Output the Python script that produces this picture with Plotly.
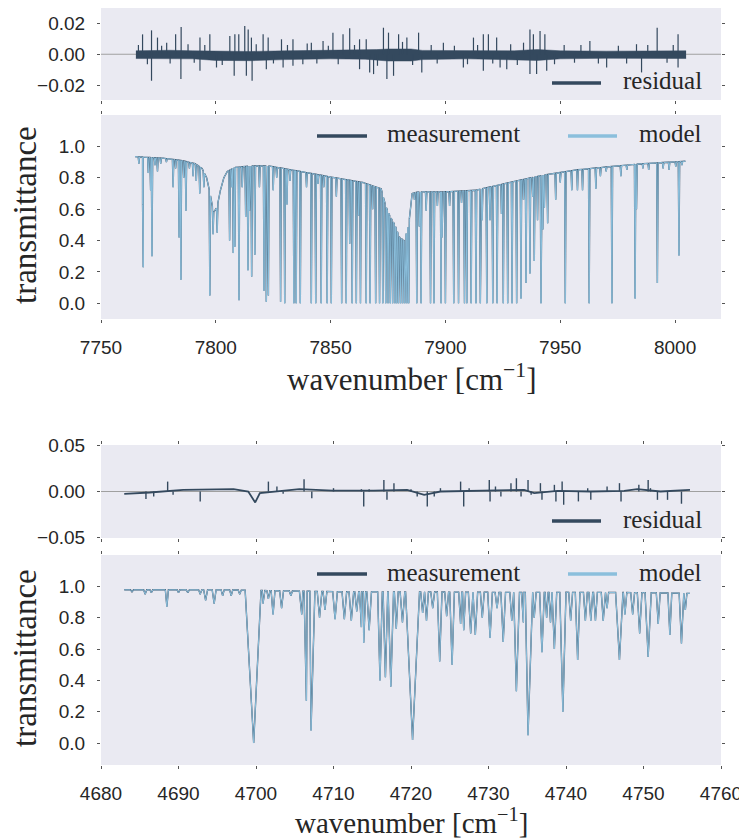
import numpy as np
import plotly.graph_objects as go

# ---------------- data: upper figure (7750-8020 cm^-1) ----------------
top_cont_w = [7764.8, 7770, 7777, 7785, 7791, 7794, 7796, 7797.5, 7799, 7800.5, 7802, 7803.5,
              7805, 7808, 7815, 7823, 7835, 7850, 7864, 7872, 7874, 7876, 7878, 7880, 7882,
              7884, 7885.5, 7888, 7899, 7913, 7928, 7942, 7957, 7971, 7986, 8004.5]
top_cont_t = [0.935, 0.93, 0.925, 0.91, 0.89, 0.86, 0.80, 0.70, 0.58, 0.61, 0.72, 0.80,
              0.84, 0.865, 0.875, 0.875, 0.845, 0.805, 0.77, 0.73, 0.62, 0.55, 0.50, 0.42, 0.40,
              0.50, 0.70, 0.71, 0.71, 0.72, 0.77, 0.815, 0.85, 0.87, 0.89, 0.905]

top_line_w = [7766.5, 7768.1, 7768.4, 7770.6, 7771.6, 7772.2, 7773.5, 7774.6, 7776.0, 7778.5,
              7781.4, 7782.5, 7784.0, 7784.8, 7786.0, 7787.0, 7788.5, 7790.1, 7791.5, 7793.0,
              7794.8, 7797.4, 7798.8, 7800.6, 7806.0, 7807.0, 7807.6, 7808.3, 7810.1, 7811.5,
              7813.0, 7814.0, 7814.7, 7815.6, 7817.0, 7819.0, 7821.0, 7822.0, 7822.9, 7825.0,
              7826.5, 7828.2, 7830.0, 7831.0, 7832.3, 7834.0, 7835.0, 7836.8, 7839.5, 7841.6,
              7843.5, 7844.5, 7845.9, 7847.0, 7848.5, 7850.3, 7852.5, 7854.8, 7856.8, 7858.3,
              7859.4, 7861.2, 7862.2, 7863.0, 7865.5, 7867.2, 7868.3, 7869.6, 7871.3, 7872.7,
              7874.0, 7875.0, 7876.0, 7877.0, 7878.0, 7878.8, 7879.6, 7880.5, 7881.4, 7882.3,
              7883.2, 7884.0, 7886.5, 7887.5, 7888.6, 7889.4, 7891.6, 7893.5, 7895.0, 7896.5,
              7898.1, 7898.5, 7900.0, 7901.8, 7903.6, 7905.7, 7907.0, 7908.3, 7909.3, 7911.2,
              7913.3, 7915.2, 7916.0, 7918.0, 7919.4, 7920.6, 7922.5, 7924.4, 7925.2, 7927.1,
              7929.0, 7931.0, 7932.9, 7934.0, 7935.1, 7936.8, 7938.0, 7938.7, 7940.1, 7941.6,
              7942.4, 7943.1, 7944.5, 7948.0, 7950.0, 7952.2, 7955.0, 7957.5, 7959.7, 7962.6,
              7965.5, 7967.5, 7970.0, 7972.5, 7976.4, 7979.0, 7982.6, 7983.2, 7986.0, 7988.5,
              7992.3, 7994.8, 7997.4, 8000.3, 8001.7, 8003.0]
top_line_t = [0.89, 0.63, 0.23, 0.83, 0.72, 0.30, 0.88, 0.84, 0.89, 0.90,
              0.74, 0.86, 0.42, 0.15, 0.80, 0.59, 0.86, 0.81, 0.78, 0.70,
              0.74, 0.05, 0.44, 0.45, 0.40, 0.74, 0.32, 0.36, 0.02, 0.74,
              0.55, 0.21, 0.59, 0.17, 0.31, 0.74, 0.08, 0.01, 0.05, 0.72,
              0.80, 0.01, 0.00, 0.63, 0.78, 0.00, 0.00, 0.00, 0.74, 0.00,
              0.00, 0.76, 0.00, 0.74, 0.00, 0.00, 0.68, 0.00, 0.00, 0.38,
              0.00, 0.00, 0.56, 0.00, 0.00, 0.00, 0.60, 0.00, 0.00, 0.00,
              0.00, 0.00, 0.00, 0.00, 0.00, 0.00, 0.00, 0.00, 0.00, 0.00,
              0.00, 0.00, 0.66, 0.00, 0.49, 0.00, 0.59, 0.00, 0.00, 0.62,
              0.00, 0.42, 0.00, 0.62, 0.00, 0.00, 0.64, 0.00, 0.00, 0.00,
              0.00, 0.00, 0.53, 0.00, 0.53, 0.00, 0.00, 0.57, 0.00, 0.00,
              0.00, 0.00, 0.03, 0.66, 0.13, 0.19, 0.68, 0.27, 0.53, 0.00,
              0.47, 0.61, 0.51, 0.66, 0.77, 0.00, 0.72, 0.72, 0.72, 0.00,
              0.73, 0.81, 0.84, 0.00, 0.81, 0.85, 0.03, 0.60, 0.86, 0.85,
              0.13, 0.86, 0.85, 0.87, 0.305, 0.88]

# residual (upper): noise band envelope and individual spikes
top_res_env_w = [7765.2, 7780, 7790, 7800, 7815, 7830, 7850, 7865, 7870, 7875, 7885, 7890,
                 7910, 7930, 7936, 7940, 7946, 7950, 7970, 7990, 8004.8]
top_res_env_hi = [0.0022, 0.0026, 0.0022, 0.0020, 0.0018, 0.0022, 0.0026, 0.0026, 0.0030, 0.0034,
                  0.0034, 0.0025, 0.0022, 0.0022, 0.0028, 0.0030, 0.0026, 0.0022, 0.0020, 0.0022, 0.0022]
top_res_env_lo = [-0.0028, -0.0032, -0.0030, -0.0040, -0.0042, -0.0035, -0.0030, -0.0032, -0.0036,
                  -0.0044, -0.0044, -0.0035, -0.0030, -0.0034, -0.0038, -0.0040, -0.0034, -0.0030,
                  -0.0026, -0.0026, -0.0028]
top_res_spike_w = [7768.1, 7772.0, 7774.6, 7778.6, 7782.5, 7784.9, 7793.1, 7797.4, 7806.1, 7808.3,
                   7810.0, 7812.6, 7814.1, 7815.5, 7820.6, 7822.8, 7828.6, 7833.6, 7841.6, 7846.7,
                   7851.0, 7855.4, 7858.3, 7862.6, 7865.5, 7873.0, 7875.2, 7879.6, 7883.2, 7888.3,
                   7899.1, 7912.2, 7916.5, 7918.7, 7922.3, 7936.8, 7938.3, 7941.2, 7943.3, 7962.9,
                   7983.2, 7992.2, 8001.3,
                   7772.0, 7784.8, 7793.1, 7800.3, 7808.0, 7813.3, 7815.8, 7822.0, 7829.3, 7833.6,
                   7862.6, 7867.0, 7868.7, 7874.5, 7877.4, 7889.7, 7907.8, 7916.5, 7923.8, 7926.7,
                   7936.8, 7939.7, 7944.1, 7970.2, 7985.4, 8001.3,
                   7766.3, 7770.2, 7776.4, 7780.1, 7787.9, 7790.6, 7795.2, 7802.8, 7817.6, 7825.1,
                   7831.2, 7837.9, 7839.8, 7844.0, 7849.0, 7853.3, 7860.4, 7870.4, 7881.3, 7885.7,
                   7893.8, 7896.4, 7903.9, 7909.6, 7914.0, 7920.6, 7928.4, 7931.3, 7934.0, 7947.5,
                   7951.7, 7956.2, 7959.0, 7966.6, 7975.3, 7978.9, 7988.1, 7996.5, 7999.2]
top_res_spike_r = [0.0129, 0.0155, 0.0108, 0.0075, 0.0129, 0.0176, 0.0108, 0.0129, 0.0118, 0.0129,
                   0.0129, 0.0183, 0.0161, 0.0108, 0.0129, 0.0108, 0.0097, 0.0097, 0.0075, 0.0086,
                   0.0140, 0.0129, 0.0168, 0.0097, 0.0097, 0.0172, 0.0140, 0.0129, 0.0108, 0.0140,
                   0.0075, 0.0108, 0.0129, 0.0129, 0.0108, 0.0161, 0.0129, 0.0150, 0.0129, 0.0086,
                   0.0065, 0.0172, 0.0129,
                   -0.0172, -0.0161, -0.0108, -0.0086, -0.0140, -0.0140, -0.0172, -0.0097, -0.0086, -0.0075,
                   -0.0097, -0.0118, -0.0129, -0.0161, -0.0140, -0.0118, -0.0086, -0.0108, -0.0086, -0.0097,
                   -0.0129, -0.0129, -0.0108, -0.0086, -0.0118, -0.0086,
                   0.0060, -0.0065, 0.0055, -0.0060, 0.0065, -0.0055, 0.0060, -0.0070, 0.0065, -0.0060,
                   0.0060, -0.0065, 0.0070, -0.0060, 0.0055, -0.0065, 0.0060, -0.0075, 0.0080, -0.0070,
                   0.0060, -0.0060, 0.0055, -0.0065, 0.0060, -0.0060, 0.0065, -0.0070, 0.0075, -0.0065,
                   0.0060, -0.0055, 0.0060, -0.0060, 0.0055, -0.0060, 0.0060, -0.0055, 0.0060]

# ---------------- data: lower figure (4680-4760 cm^-1) ----------------
bot_cont_w = [4683.0, 4690, 4697, 4705, 4712, 4720, 4730, 4740, 4750, 4756]
bot_cont_t = [0.978, 0.978, 0.977, 0.970, 0.965, 0.965, 0.962, 0.962, 0.960, 0.955]

bot_line_w = [4684.0, 4685.7, 4686.5, 4688.5, 4690.0, 4691.2, 4692.8, 4693.5, 4694.6, 4695.7,
              4696.8, 4697.9, 4699.7, 4700.9, 4701.6, 4702.2, 4703.3, 4704.5, 4705.9, 4706.5,
              4707.1, 4708.2, 4708.9, 4710.2, 4711.4, 4712.3, 4713.0, 4713.6, 4713.9, 4714.6,
              4716.0, 4716.7, 4717.4, 4718.1, 4718.9, 4720.2, 4721.5, 4722.0, 4722.8, 4723.7,
              4724.6, 4725.3, 4726.4, 4726.8, 4727.7, 4728.3, 4729.2, 4730.2, 4731.1, 4731.9,
              4733.0, 4733.6, 4734.5, 4735.1, 4735.9, 4736.9, 4737.5, 4738.0, 4738.5, 4739.6,
              4740.6, 4741.5, 4742.5, 4743.2, 4743.8, 4744.8, 4745.3, 4746.9, 4747.6, 4748.6,
              4749.5, 4750.6, 4751.9, 4753.4, 4754.9, 4755.4]
bot_line_t = [0.965, 0.95, 0.96, 0.87, 0.96, 0.96, 0.95, 0.91, 0.89, 0.94,
              0.94, 0.95, 0.00, 0.89, 0.92, 0.82, 0.86, 0.94, 0.82, 0.27,
              0.08, 0.80, 0.85, 0.79, 0.79, 0.78, 0.84, 0.74, 0.64, 0.72,
              0.40, 0.42, 0.36, 0.73, 0.77, 0.02, 0.83, 0.78, 0.86, 0.52,
              0.81, 0.50, 0.76, 0.72, 0.70, 0.69, 0.80, 0.67, 0.86, 0.645,
              0.78, 0.33, 0.77, 0.05, 0.80, 0.58, 0.80, 0.77, 0.60, 0.20,
              0.78, 0.53, 0.78, 0.78, 0.78, 0.78, 0.86, 0.53, 0.82, 0.82,
              0.70, 0.55, 0.76, 0.69, 0.635, 0.85]
bot_line_hw = [0.2, 0.2, 0.2, 0.2, 0.2, 0.2, 0.2, 0.25, 0.25, 0.2,
               0.2, 0.2, 1.1, 0.25, 0.2, 0.25, 0.25, 0.2, 0.3, 0.45,
               0.5, 0.3, 0.25, 0.3, 0.3, 0.3, 0.25, 0.25, 0.25, 0.3,
               0.3, 0.3, 0.35, 0.25, 0.3, 0.9, 0.25, 0.25, 0.25, 0.3,
               0.25, 0.3, 0.25, 0.25, 0.3, 0.3, 0.25, 0.3, 0.25, 0.3,
               0.25, 0.4, 0.25, 0.6, 0.25, 0.3, 0.2, 0.2, 0.3, 0.4,
               0.25, 0.3, 0.25, 0.25, 0.25, 0.25, 0.2, 0.5, 0.25, 0.25,
               0.3, 0.4, 0.25, 0.25, 0.3, 0.2]

bot_res_base_w = [4683.0, 4686.3, 4690.6, 4694.9, 4697.1, 4699.0, 4699.9, 4700.5, 4703.5, 4705.6,
                  4709.9, 4714.2, 4715.2, 4719.5, 4721.7, 4723.8, 4728.1, 4732.4, 4734.6, 4735.9,
                  4738.9, 4743.2, 4747.5, 4749.2, 4752.2, 4756.0]
bot_res_base_r = [-0.0025, -0.0011, 0.0018, 0.0018, 0.0025, 0.0, -0.0118, -0.0018, 0.001, 0.0025,
                  0.001, 0.0007, 0.001, 0.0018, -0.0036, 0.0, 0.0007, 0.0018, 0.0018, -0.0018,
                  0.0007, 0.0, 0.0007, 0.0025, 0.0, 0.0018]
bot_res_spike_w = [4685.8, 4686.8, 4688.6, 4689.3, 4692.8, 4701.6, 4702.7, 4703.5, 4706.2, 4707.2,
                   4710.0, 4713.6, 4713.9, 4714.6, 4716.5, 4716.9, 4717.8, 4720.0, 4720.8, 4722.1,
                   4723.0, 4723.8, 4726.4, 4726.8, 4727.5, 4730.1, 4730.2, 4730.9, 4731.6, 4732.9,
                   4733.6, 4734.2, 4735.1, 4735.5, 4736.7, 4736.9, 4738.5, 4738.7, 4739.5, 4739.7,
                   4741.6, 4742.8, 4743.2, 4745.3, 4746.9, 4747.1, 4749.4, 4750.6, 4750.9, 4751.8,
                   4753.1, 4754.9]
bot_res_spike_r = [-0.0082, -0.0054, 0.0107, -0.0036, -0.0107, 0.0107, 0.0054, -0.0025, 0.0132, -0.0072,
                   0.0036, 0.0025, -0.0161, 0.0025, 0.0125, -0.009, 0.009, 0.0025, -0.0054, -0.0161,
                   -0.0054, 0.0036, 0.0107, -0.0161, 0.0036, 0.0125, -0.0107, 0.0054, -0.0054, 0.009,
                   0.0143, -0.0054, 0.0125, -0.0036, 0.009, -0.009, 0.0072, -0.0107, 0.0107, -0.0143,
                   -0.0107, 0.0036, -0.009, 0.0054, 0.009, -0.0107, 0.0072, 0.0125, 0.0036, -0.009,
                   -0.009, -0.0132]

top_ticks_x = [7750, 7800, 7850, 7900, 7950, 8000]
bot_ticks_x = [4680, 4690, 4700, 4710, 4720, 4730, 4740, 4750, 4760]
trans_ticks = [0.0, 0.2, 0.4, 0.6, 0.8, 1.0]
top_res_ticks = [-0.02, 0.0, 0.02]
bot_res_ticks = [-0.05, 0.0, 0.05]

# ---------------- styles ----------------
OFF = 8                       # default page margin of the html body
W, H = 747 - OFF, 839 - OFF   # figure so that it ends at the window edge
C_MEAS = "#34495e"
C_MODEL = "#8bbfdc"
C_BG = "#eaeaf2"
C_TXT = "#262626"
SERIF = "Liberation Serif, DejaVu Serif, serif"
SANS = "Liberation Sans, Arial, sans-serif"
TOP_LINE_HW = 0.3

assert len(top_line_w) == len(top_line_t)
assert len(bot_line_w) == len(bot_line_t) == len(bot_line_hw)
assert len(top_res_spike_w) == len(top_res_spike_r)
assert len(bot_res_spike_w) == len(bot_res_spike_r)


def build_spectrum(cont_w, cont_t, line_w, line_t, line_hw):
    cw = np.asarray(cont_w, float)
    ct = np.asarray(cont_t, float)
    lw = np.asarray(line_w, float)
    lt = np.asarray(line_t, float)
    hw = np.asarray(line_hw, float)
    xs, ys = [], []
    for w, t in zip(cw, ct):
        if np.all(np.abs(lw - w) > hw):
            xs.append(w)
            ys.append(t)
    for w, t, h in zip(lw, lt, hw):
        for xx in (w - h, w + h):
            xs.append(xx)
            ys.append(float(np.interp(xx, cw, ct)))
        xs.append(w)
        ys.append(t)
    order = np.argsort(xs, kind="stable")
    return np.asarray(xs)[order], np.asarray(ys)[order]


def spikes(ws, rs):
    xs, ys = [], []
    for w, r in zip(ws, rs):
        xs += [w, w, None]
        ys += [0.0, r, None]
    return xs, ys


top_x, top_y = build_spectrum(top_cont_w, top_cont_t, top_line_w, top_line_t,
                              [TOP_LINE_HW] * len(top_line_w))
bot_x, bot_y = build_spectrum(bot_cont_w, bot_cont_t, bot_line_w, bot_line_t, bot_line_hw)

fig = go.Figure()

# upper residual
fig.add_trace(go.Scatter(x=top_res_env_w, y=top_res_env_hi, mode="lines", line=dict(width=0.5, color=C_MEAS),
                         xaxis="x", yaxis="y", hoverinfo="skip", showlegend=False))
fig.add_trace(go.Scatter(x=top_res_env_w, y=top_res_env_lo, mode="lines", line=dict(width=0.5, color=C_MEAS),
                         fill="tonexty", fillcolor=C_MEAS, xaxis="x", yaxis="y", showlegend=False))
sx, sy = spikes(top_res_spike_w, top_res_spike_r)
fig.add_trace(go.Scatter(x=sx, y=sy, mode="lines", line=dict(width=1.2, color=C_MEAS),
                         xaxis="x", yaxis="y", showlegend=False))

# upper transmittance
fig.add_trace(go.Scatter(x=top_x, y=top_y, mode="lines", name="measurement",
                         line=dict(width=1.35, color=C_MEAS), xaxis="x2", yaxis="y2", showlegend=False))
fig.add_trace(go.Scatter(x=top_x, y=top_y, mode="lines", name="model",
                         line=dict(width=1.0, color=C_MODEL), xaxis="x2", yaxis="y2", showlegend=False))

# lower residual
fig.add_trace(go.Scatter(x=bot_res_base_w, y=bot_res_base_r, mode="lines", line=dict(width=1.8, color=C_MEAS),
                         xaxis="x3", yaxis="y3", showlegend=False))
sx, sy = spikes(bot_res_spike_w, bot_res_spike_r)
fig.add_trace(go.Scatter(x=sx, y=sy, mode="lines", line=dict(width=1.4, color=C_MEAS),
                         xaxis="x3", yaxis="y3", showlegend=False))

# lower transmittance
fig.add_trace(go.Scatter(x=bot_x, y=bot_y, mode="lines", name="measurement",
                         line=dict(width=1.35, color=C_MEAS), xaxis="x4", yaxis="y4", showlegend=False))
fig.add_trace(go.Scatter(x=bot_x, y=bot_y, mode="lines", name="model",
                         line=dict(width=1.0, color=C_MODEL), xaxis="x4", yaxis="y4", showlegend=False))


def ppx(p):
    return (p - OFF) / W


def ppy(p):
    return 1 - (p - OFF) / H


XD = [ppx(101), ppx(721)]


def axis(domain, rng, tickvals, ticktext=None, labels=True, anchor=None):
    d = dict(domain=domain, range=rng, showgrid=False, zeroline=False, showline=False,
             automargin=False, ticks="outside", ticklen=3, tickwidth=1, tickcolor="#555555",
             mirror="ticks", tickvals=tickvals, showticklabels=labels, ticklabelstandoff=8,
             tickfont=dict(family=SANS, size=19, color=C_TXT), anchor=anchor)
    if ticktext is not None:
        d["ticktext"] = ticktext
    return d


fmt2 = lambda v: ("\u2212" if v < 0 else "") + f"{abs(v):.2f}"
fmt1 = lambda v: f"{v:.1f}"

fig.update_layout(
    template="none",
    width=W, height=H, margin=dict(l=0, r=0, t=0, b=0, pad=0), autosize=False,
    paper_bgcolor="white", plot_bgcolor=C_BG, showlegend=False,
    xaxis=axis(XD, [7750, 8020], top_ticks_x, labels=False, anchor="y"),
    yaxis=axis([ppy(100), ppy(8)], [-0.0297, 0.03], top_res_ticks, [fmt2(v) for v in top_res_ticks], anchor="x"),
    xaxis2=axis(XD, [7750, 8020], top_ticks_x, [str(v) for v in top_ticks_x], anchor="y2"),
    yaxis2=axis([ppy(319), ppy(115)], [-0.1, 1.2], trans_ticks, [fmt1(v) for v in trans_ticks], anchor="x2"),
    xaxis3=axis(XD, [4680, 4760], bot_ticks_x, labels=False, anchor="y3"),
    yaxis3=axis([ppy(538), ppy(445)], [-0.0502, 0.0502], bot_res_ticks, [fmt2(v) for v in bot_res_ticks], anchor="x3"),
    xaxis4=axis(XD, [4680, 4760], bot_ticks_x, [str(v) for v in bot_ticks_x], anchor="y4"),
    yaxis4=axis([ppy(765), ppy(555)], [-0.14, 1.2], trans_ticks, [fmt1(v) for v in trans_ticks], anchor="x4"),
)

shapes = []
# zero lines in residual panels
for xr, yr in (("x domain", "y"), ("x3 domain", "y3")):
    shapes.append(dict(type="line", xref=xr, yref=yr, x0=0, x1=1, y0=0, y1=0,
                       line=dict(color="#a0a0a0", width=1.2), layer="below"))


def legend_line(x0, x1, y, color):
    shapes.append(dict(type="line", xref="paper", yref="paper", x0=ppx(x0), x1=ppx(x1),
                       y0=ppy(y), y1=ppy(y), line=dict(color=color, width=3.5)))


annotations = []


def text(s, x, y, size, xanchor="left", angle=0):
    annotations.append(dict(text=s, x=ppx(x), y=ppy(y), xref="paper", yref="paper",
                            xanchor=xanchor, yanchor="middle", showarrow=False, textangle=angle,
                            font=dict(family=SERIF, size=size, color=C_TXT)))


for off in (0, 438):
    legend_line(552, 601, 83 + off, C_MEAS)
    text("residual", 621, 81 + off, 25)
    legend_line(317, 367, 136 + off, C_MEAS)
    text("measurement", 385, 134 + off, 25)
    legend_line(568, 617, 136 + off, C_MODEL)
    text("model", 637, 134 + off, 25)

text("transmittance", 25, 215, 33, xanchor="center", angle=-90)
text("transmittance", 25, 658, 33, xanchor="center", angle=-90)
text("wavenumber [cm<sup>\u22121</sup>]", 411, 378, 31, xanchor="center")
text("wavenumber [cm<sup>\u22121</sup>]", 411, 821, 29, xanchor="center")

fig.update_layout(shapes=shapes, annotations=annotations)
fig.write_html("out.html")
